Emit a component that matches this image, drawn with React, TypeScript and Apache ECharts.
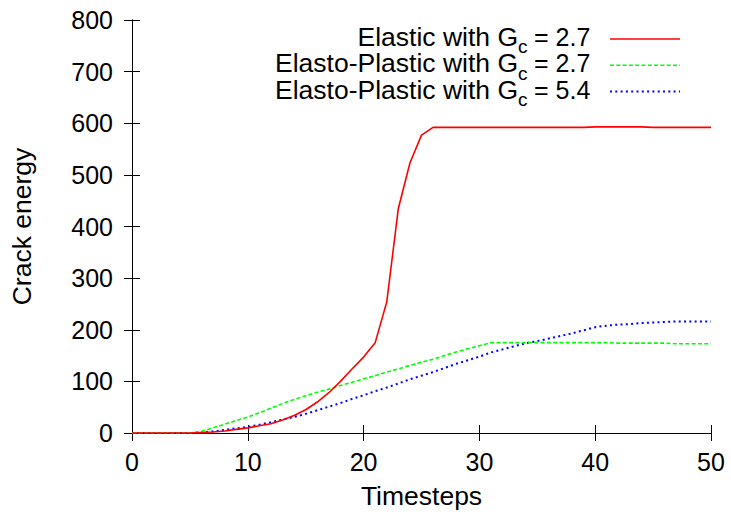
import React, { useEffect, useRef } from "react";
import * as echarts from "echarts";

const timesteps: number[] = Array.from({ length: 51 }, (_, i) => i);

const elasticGc27: number[] = [
  0, 0, 0, 0, 0, 0, 1, 2, 4, 7,
  10, 14, 18, 25, 34, 45, 60, 78, 100, 124,
  147, 175, 254, 435, 523, 577, 592, 592, 592, 592,
  592, 592, 592, 592, 592, 592, 592, 592, 592, 592,
  593, 593, 593, 593, 593, 592, 592, 592, 592, 592, 592,
];

const elastoPlasticGc27: number[] = [
  0, 0, 0, 0, 0, 0, 3, 10, 17, 24,
  31, 39, 48, 57, 65, 72, 79, 85, 92, 98,
  105, 111, 118, 124, 131, 137, 143, 150, 157, 163,
  169, 175, 175, 175, 175, 175, 175, 175, 175, 175,
  175, 175, 174, 174, 174, 174, 174, 173, 173, 173, 173,
];

const elastoPlasticGc54: number[] = [
  0, 0, 0, 0, 0, 0, 1, 3, 6, 9,
  12, 16, 21, 26, 31, 37, 44, 51, 58, 66,
  73, 81, 88, 96, 104, 111, 118, 126, 134, 141,
  148, 156, 162, 168, 174, 178, 183, 188, 193, 199,
  205, 208, 210, 211, 213, 214, 215, 216, 216, 216, 216,
];

const xTicks = { min: 0, max: 50, interval: 10 };
const yTicks = { min: 0, max: 800, interval: 100 };

const legendEntries = [
  { prefix: "Elastic with G", sub: "c", suffix: "= 2.7", color: "#ff0000", dash: "solid" },
  { prefix: "Elasto-Plastic with G", sub: "c", suffix: "= 2.7", color: "#00ff00", dash: "dashed" },
  { prefix: "Elasto-Plastic with G", sub: "c", suffix: "= 5.4", color: "#0000ff", dash: "dotted" },
];

const FONT = "Liberation Sans, Arial, Helvetica, sans-serif";
const FS = 25;
const FS_TEXT = 26.5;

export default function App() {
  const ref = useRef<HTMLDivElement>(null);
  useEffect(() => {
    if (!ref.current) return;
    const chart = echarts.init(ref.current, undefined, { renderer: "svg" });
    const pair = (arr: number[]) => timesteps.map((t, i) => [t, arr[i]]);
    const dashOf = (d: string): any =>
      d === "dashed" ? [4, 2.3] : d === "dotted" ? [2, 3.3] : "solid";
    const widthOf = (d: string) => (d === "dotted" ? 2 : 1.6);

    const graphics: any[] = [];
    legendEntries.forEach((e, i) => {
      const base = 45.5 + i * 26.5;
      graphics.push({
        type: "text",
        x: 518,
        y: base - 9,
        style: {
          text: e.prefix,
          font: `${FS_TEXT}px ${FONT}`,
          lineHeight: 20,
          fill: "#000",
          align: "right",
          verticalAlign: "middle",
        },
      });
      graphics.push({
        type: "text",
        x: 518,
        y: base + 8 - 6.6,
        style: {
          text: e.sub,
          font: `19px ${FONT}`,
          lineHeight: 12,
          fill: "#000",
          align: "left",
          verticalAlign: "middle",
        },
      });
      graphics.push({
        type: "text",
        x: 534,
        y: base - 8.7,
        style: {
          text: e.suffix,
          font: `${FS}px ${FONT}`,
          lineHeight: 20,
          fill: "#000",
          align: "left",
          verticalAlign: "middle",
        },
      });
      const ly = 39 + i * 26.3;
      graphics.push({
        type: "line",
        shape: { x1: 610, y1: ly, x2: 680, y2: ly },
        style: { stroke: e.color, lineWidth: widthOf(e.dash), lineDash: dashOf(e.dash) },
      });
    });

    const axisLine = { show: true, lineStyle: { color: "#000", width: 1 } };
    const axisTick = { show: true, inside: true, length: 8, lineStyle: { color: "#000" } };
    const labelStyle = { color: "#000", fontFamily: FONT, fontSize: FS };
    const nameStyle = { color: "#000", fontFamily: FONT, fontSize: FS_TEXT };

    chart.setOption({
      animation: false,
      backgroundColor: "#fff",
      grid: { left: 132, right: 20, top: 20, bottom: 82, containLabel: false },
      xAxis: [
        {
          type: "value",
          ...xTicks,
          position: "bottom",
          axisLine,
          axisTick,
          splitLine: { show: false },
          axisLabel: { ...labelStyle, margin: 16 },
          name: "Timesteps",
          nameLocation: "middle",
          nameGap: 49,
          nameTextStyle: { ...nameStyle },
        },
        {
          type: "value",
          ...xTicks,
          position: "top",
          axisLine,
          axisTick,
          splitLine: { show: false },
          axisLabel: { show: false },
        },
      ],
      yAxis: [
        {
          type: "value",
          ...yTicks,
          position: "left",
          axisLine,
          axisTick,
          splitLine: { show: false },
          axisLabel: { ...labelStyle, margin: 19 },
          name: "Crack energy",
          nameLocation: "middle",
          nameGap: 97,
          nameTextStyle: { ...nameStyle },
        },
        {
          type: "value",
          ...yTicks,
          position: "right",
          axisLine,
          axisTick,
          splitLine: { show: false },
          axisLabel: { show: false },
        },
      ],
      series: [
        {
          name: "Elastic with Gc = 2.7",
          type: "line",
          data: pair(elasticGc27),
          showSymbol: false,
          symbol: "none",
          lineStyle: { color: legendEntries[0].color, width: 1.6, type: "solid" },
          z: 3,
        },
        {
          name: "Elasto-Plastic with Gc = 2.7",
          type: "line",
          data: pair(elastoPlasticGc27),
          showSymbol: false,
          symbol: "none",
          lineStyle: { color: legendEntries[1].color, width: 1.6, type: [4, 2.3] },
          z: 2,
        },
        {
          name: "Elasto-Plastic with Gc = 5.4",
          type: "line",
          data: pair(elastoPlasticGc54),
          showSymbol: false,
          symbol: "none",
          lineStyle: { color: legendEntries[2].color, width: 2, type: [2, 3.3] },
          z: 1,
        },
      ],
      graphic: graphics,
    });
    return () => chart.dispose();
  }, []);
  return <div ref={ref} style={{ width: 731, height: 515, position: "absolute", left: 0, top: 0 }} />;
}
